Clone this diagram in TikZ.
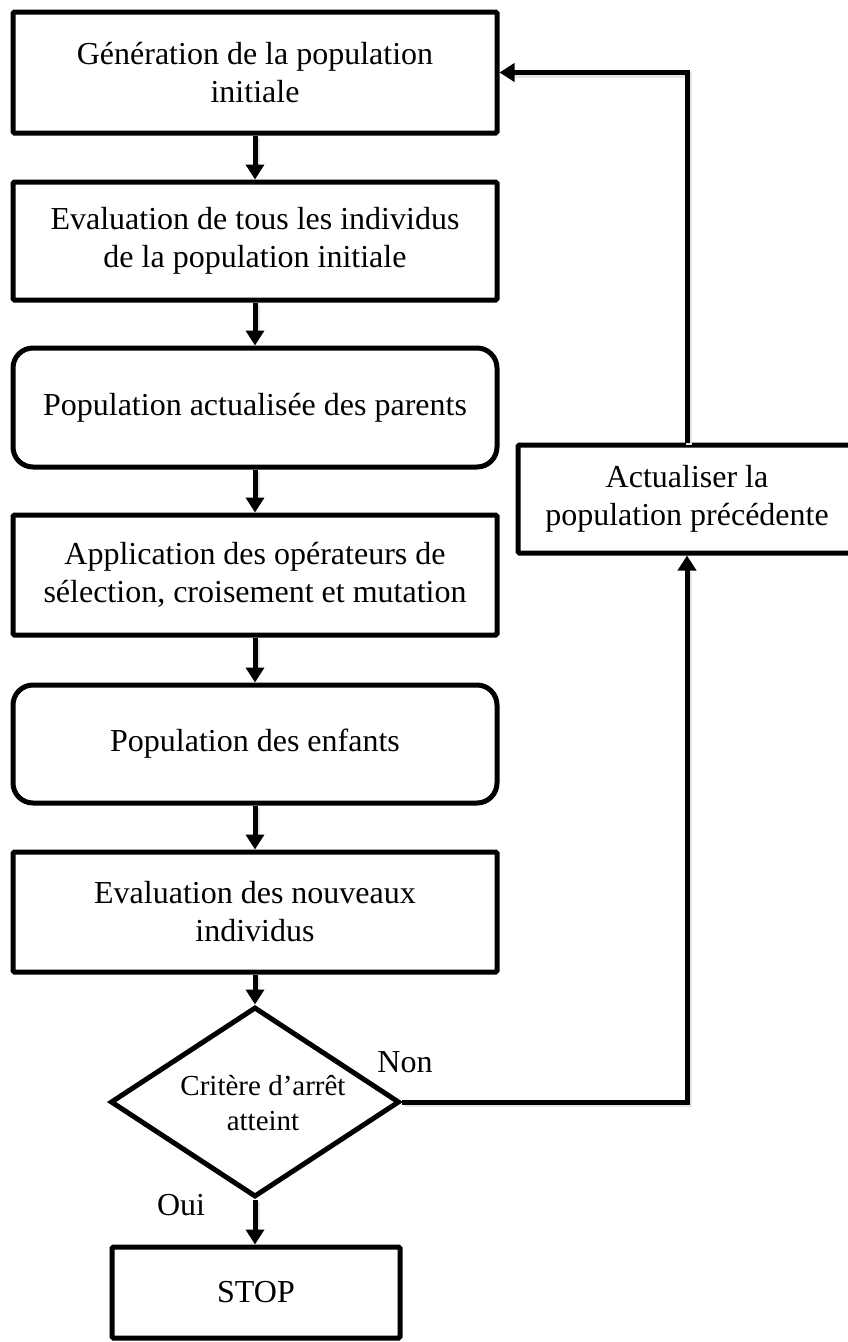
\documentclass[tikz,border=0pt]{standalone}
\usepackage{fontspec}
\setmainfont{Liberation Serif}
\usetikzlibrary{shapes.geometric,arrows.meta}

\tikzset{
  box/.style={draw, line width=5pt, rounded corners=1.5pt, minimum width=484pt,
    inner sep=0pt, align=center, font=\fontsize{32pt}{38pt}\selectfont},
  roundbox/.style={box, rounded corners=20pt},
  decision/.style={draw, shape=diamond, line width=5pt, inner sep=0pt,
    minimum width=289pt, minimum height=190pt},
  decisiontext/.style={inner sep=0pt, align=center, font=\fontsize{29pt}{35pt}\selectfont},
  lbl/.style={inner sep=0pt, anchor=base, font=\fontsize{32pt}{38pt}\selectfont},
  conn/.style={line width=5pt, -{Triangle[length=15pt,width=18pt]},
    preaction={draw=black!10, line width=6pt, -, shorten >=14pt,
      transform canvas={shift={(1.5pt,-2pt)}}}},
}

\begin{document}
\begin{tikzpicture}[x=1pt, y=-1pt]
\useasboundingbox (0,0) rectangle (847,1342);

% main column
\node[box, minimum height=121pt] (gen) at (255,72.5) {Génération de la population\\initiale};
\node[box, minimum height=118pt] (eval) at (255,241) {Evaluation de tous les individus\\de la population initiale};
\node[roundbox, minimum height=119pt] (par) at (255,407.5) {Population actualisée des parents};
\node[box, minimum height=120pt] (ops) at (255,575) {Application des opérateurs de\\sélection, croisement et mutation};
\node[roundbox, minimum height=118pt] (enf) at (255,744) {Population des enfants};
\node[box, minimum height=120pt] (neval) at (255,912) {Evaluation des nouveaux\\individus};
\node[decision] (crit) at (255,1102) {};
\node[decisiontext] (crittext) at (263,1103) {Critère d’arrêt\\atteint};
\node[box, minimum width=288pt, minimum height=91pt] (stop) at (256,1292.5) {STOP};

% side branch
\node[box, minimum width=338pt, minimum height=108pt] (upd) at (687,499) {Actualiser la\\population précédente};

% connectors
\draw[conn] (gen) -- (eval);
\draw[conn] (eval) -- (par);
\draw[conn] (par) -- (ops);
\draw[conn] (ops) -- (enf);
\draw[conn] (enf) -- (neval);
\draw[conn] (neval) -- (crit);
\draw[conn] (crit.south) -- (crit.south |- stop.north);
\draw[conn] (crit.east) -| (upd.south);
\draw[conn] (upd.north) |- (gen.east);

% branch labels
\node[lbl] (non) at (405,1072) {Non};
\node[lbl] (oui) at (181,1215) {Oui};
\end{tikzpicture}
\end{document}
